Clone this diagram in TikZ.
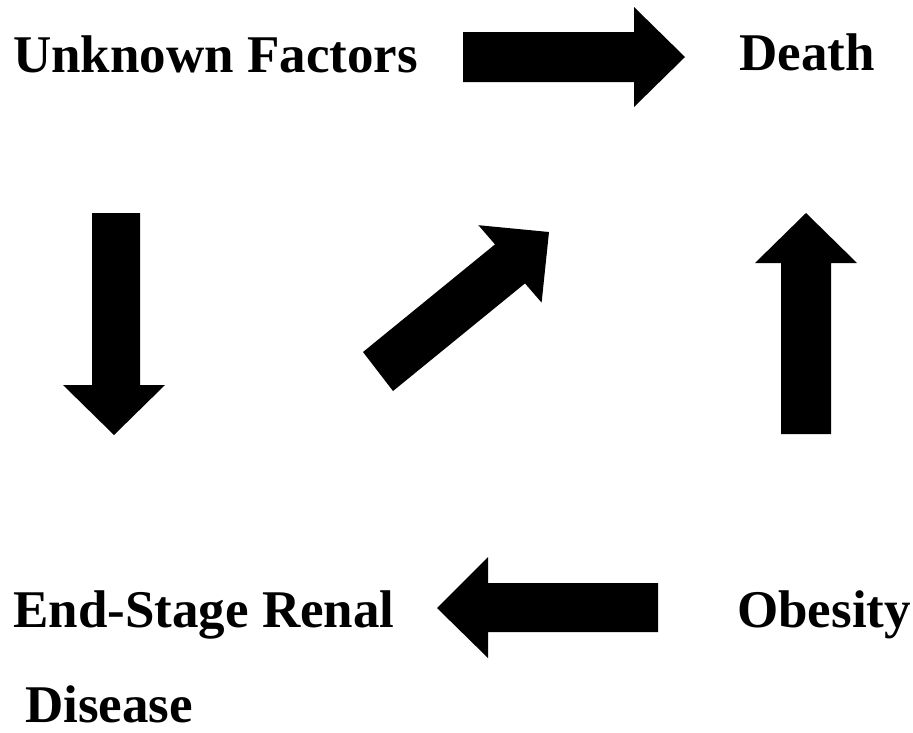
\documentclass[tikz,border=0pt]{standalone}
\usepackage{fontspec}
\setmainfont{Liberation Serif}
\begin{document}
\begin{tikzpicture}[x=1pt,y=-1pt,line join=miter,
		label/.style={anchor=base west,inner sep=0pt,font=\fontsize{53}{60}\selectfont\bfseries},
		blockarrow/.style={fill=black}]
			\useasboundingbox (0,0) rectangle (913,732);
			
			% labels
			\node[label] (unknown) at (13,72) {Unknown Factors};
			\node[label] (death) at (739,70) {Death};
			\node[label] (esrd) at (13,627) {End-Stage Renal};
			\node[label] (disease) at (25,722) {Disease};
			\node[label] (obesity) at (737,627) {Obesity};
			
			% right arrow (top)
			\fill[blockarrow] (463,32) -- (634,32) -- (634,7) -- (685,57) -- (634,107) -- (634,82) -- (463,82) -- cycle;
			
			% down arrow (left)
			\fill[blockarrow] (92,213) -- (140,213) -- (140,385) -- (165,385) -- (114,435) -- (63,385) -- (92,385) -- cycle;
			
			% diagonal arrow (middle)
			\coordinate (D1) at (363,352);
			\coordinate (D2) at (495,244.4);
			\coordinate (D3) at (478.4,225.2);
			\coordinate (D4) at (549,232);
			\coordinate (D5) at (541.6,302.6);
			\coordinate (D6) at (525,283.4);
			\coordinate (D7) at (393,391);
			\fill[blockarrow] (D1) -- (D2) -- (D3) -- (D4) -- (D5) -- (D6) -- (D7) -- cycle;
			
			% up arrow (right)
			\fill[blockarrow] (781,434) -- (831,434) -- (831,263) -- (857,263) -- (806,213) -- (755,263) -- (781,263) -- cycle;
			
			% left arrow (bottom)
			\fill[blockarrow] (658,583) -- (488,583) -- (488,557) -- (437,608) -- (488,658) -- (488,632) -- (658,632) -- cycle;
		\end{tikzpicture}
\end{document}
